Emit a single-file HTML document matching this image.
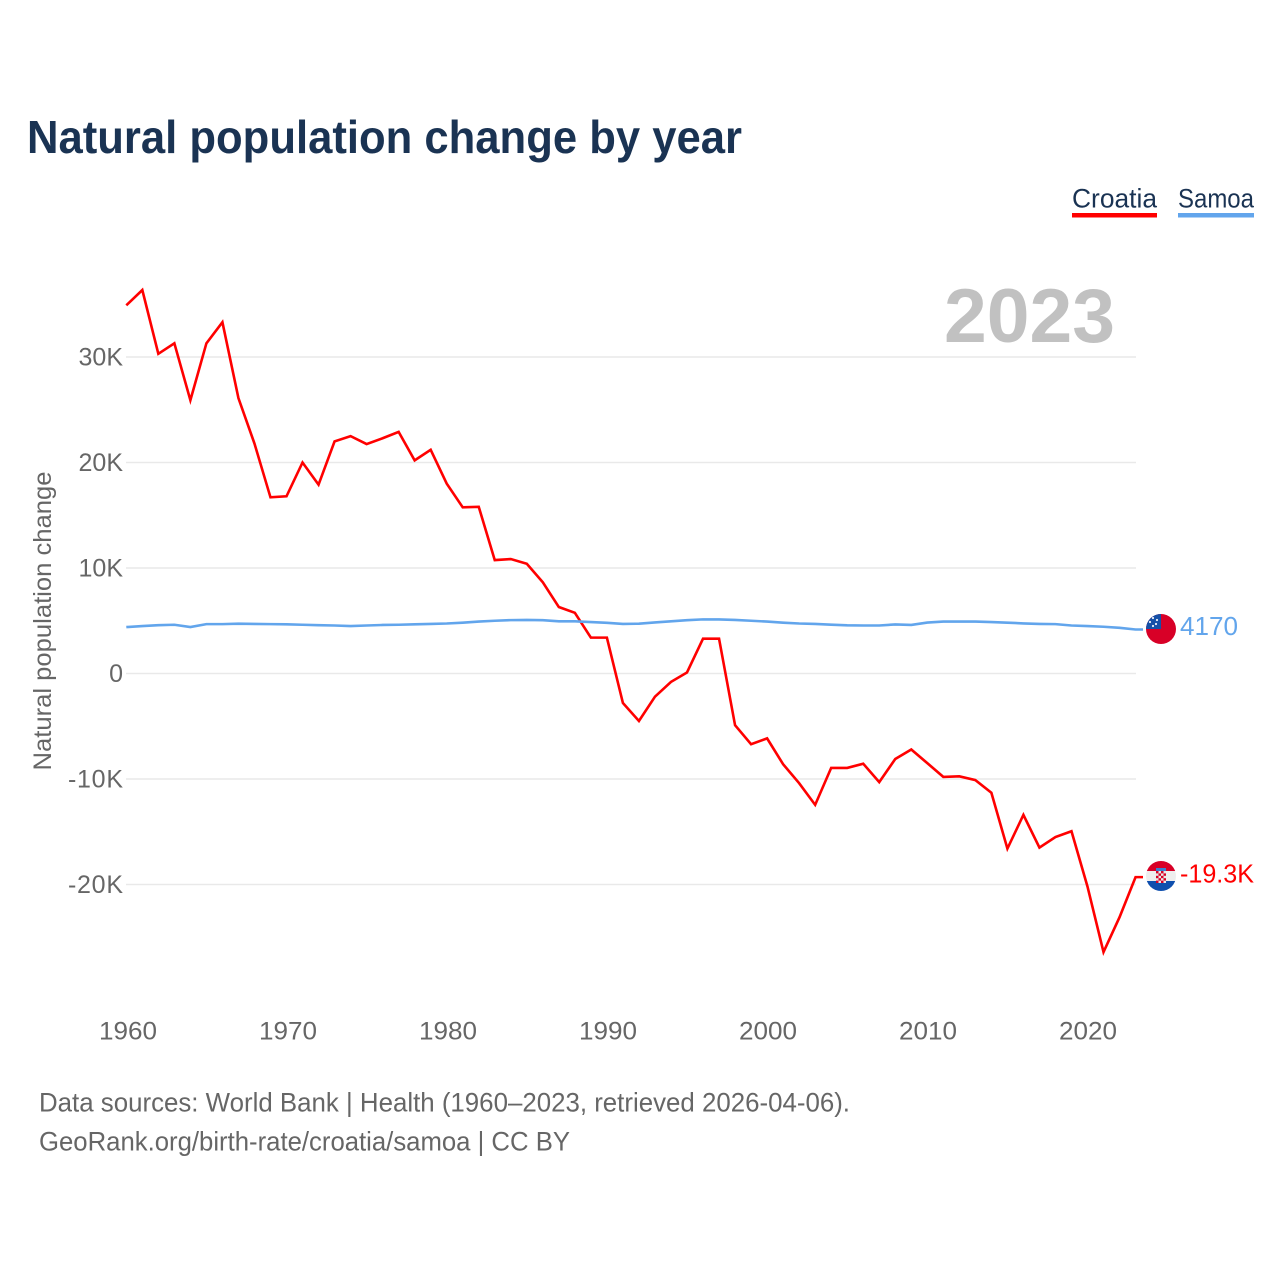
<!DOCTYPE html>
<html lang="en">
<head>
<meta charset="utf-8">
<title>Natural population change by year</title>
<style>
html,body{margin:0;padding:0;background:#fff;width:1280px;height:1280px;overflow:hidden}
svg{display:block;font-family:"Liberation Sans",sans-serif}
</style>
</head>
<body>
<svg id="chart" width="1280" height="1280" viewBox="0 0 1280 1280" xmlns="http://www.w3.org/2000/svg">
  <defs>
    <clipPath id="flag-clip-ws"><circle cx="1161" cy="629" r="15"/></clipPath>
    <clipPath id="flag-clip-hr"><circle cx="1161" cy="876" r="15"/></clipPath>
  </defs>
  <rect width="1280" height="1280" fill="#fff"/>
  <text x="27" y="153" font-size="46" font-weight="700" fill="#1a3353" textLength="715" lengthAdjust="spacingAndGlyphs">Natural population change by year</text>

  <g>
    <g>
      <text x="1072" y="207.5" font-size="27" fill="#1a3353" textLength="85" lengthAdjust="spacingAndGlyphs">Croatia</text>
      <rect x="1072" y="213" width="85" height="4.5" fill="#ff0000"/>
    </g>
    <g>
      <text x="1178" y="207.5" font-size="27" fill="#1a3353" textLength="76" lengthAdjust="spacingAndGlyphs">Samoa</text>
      <rect x="1178" y="213" width="76" height="4.5" fill="#62a5ec"/>
    </g>
  </g>

  <g id="grid"></g>
  <text x="944" y="342" font-size="76" font-weight="700" fill="#c1c1c1" textLength="171" lengthAdjust="spacingAndGlyphs">2023</text>
  <g id="yticks"></g>
  <g id="xticks"></g>
  <text transform="translate(51 621) rotate(-90)" text-anchor="middle" font-size="25" fill="#666" textLength="299" lengthAdjust="spacingAndGlyphs">Natural population change</text>

  <g id="series"></g>

  <g clip-path="url(#flag-clip-ws)">
    <rect x="1146" y="614" width="30" height="30" fill="#d80027"/>
    <rect x="1146" y="614" width="15" height="15" fill="#1450a8"/>
    <g fill="#e8eef8">
      <circle cx="1153" cy="618" r="1.1"/><circle cx="1157" cy="620" r="1.1"/><circle cx="1150" cy="622" r="1.1"/>
      <circle cx="1156" cy="624" r="1.1"/><circle cx="1153" cy="626" r="1.1"/>
    </g>
  </g>
  <g clip-path="url(#flag-clip-hr)">
    <rect x="1146" y="861" width="30" height="10" fill="#d80027"/>
    <rect x="1146" y="871" width="30" height="10" fill="#eeeeee"/>
    <rect x="1146" y="881" width="30" height="10" fill="#0f4fae"/>
    <rect x="1156" y="868" width="10" height="3" fill="#3a7fd0"/>
    <rect x="1156" y="871" width="10" height="12" fill="#e8e8e8"/>
    <g id="checker" fill="#d80027"></g>
  </g>
  <text id="label-samoa" x="1180" y="635" font-size="26" fill="#62a5ec" textLength="58" lengthAdjust="spacingAndGlyphs">4170</text>
  <text id="label-croatia" x="1180" y="882.5" font-size="26" fill="#ff0000" textLength="74" lengthAdjust="spacingAndGlyphs">-19.3K</text>

  <g font-size="27" fill="#666">
    <text x="39" y="1111.5" textLength="811" lengthAdjust="spacingAndGlyphs">Data sources: World Bank | Health (1960–2023, retrieved 2026-04-06).</text>
    <text x="39" y="1150.5" textLength="531" lengthAdjust="spacingAndGlyphs">GeoRank.org/birth-rate/croatia/samoa | CC BY</text>
  </g>
</svg>
<script>
const startYear = 1960;
const croatiaValues = [34.9,36.35,30.3,31.3,25.9,31.3,33.3,26.1,21.8,16.7,16.8,20.0,17.9,22.0,22.5,21.75,22.3,22.9,20.2,21.2,18.0,15.75,15.8,10.75,10.85,10.4,8.65,6.3,5.75,3.4,3.4,-2.8,-4.5,-2.2,-0.8,0.1,3.3,3.3,-4.9,-6.7,-6.15,-8.6,-10.4,-12.45,-8.95,-8.95,-8.55,-10.3,-8.1,-7.2,-8.5,-9.8,-9.75,-10.1,-11.3,-16.6,-13.4,-16.5,-15.5,-14.95,-20.2,-26.4,-23.1,-19.3];
const samoaValues = [4.4,4.5,4.58,4.62,4.4,4.68,4.68,4.72,4.7,4.68,4.66,4.62,4.58,4.55,4.5,4.55,4.6,4.62,4.66,4.7,4.74,4.82,4.92,5.0,5.06,5.08,5.05,4.95,4.95,4.88,4.8,4.7,4.72,4.84,4.95,5.05,5.13,5.12,5.08,5.0,4.92,4.82,4.74,4.7,4.63,4.57,4.55,4.55,4.65,4.6,4.83,4.92,4.92,4.92,4.88,4.82,4.75,4.7,4.68,4.55,4.5,4.43,4.33,4.17];
const yTickValues = [30,20,10,0,-10,-20];
const yTickLabels = ["30K","20K","10K","0","-10K","-20K"];
const xTickYears = [1960,1970,1980,1990,2000,2010,2020];

const NS = "http://www.w3.org/2000/svg";
function xScale(year){ return 126.3 + (year - startYear) * 16.02; }
function xTickScale(year){ return 128 + (year - startYear) * 16; }
function yScale(value){ return 673.5 - value * 10.55; }

const grid = document.getElementById("grid");
const yticks = document.getElementById("yticks");
yTickValues.forEach(function(v, i){
  const line = document.createElementNS(NS, "line");
  
  
  line.setAttribute("x1", 126);
  line.setAttribute("x2", 1136);
  line.setAttribute("y1", yScale(v));
  line.setAttribute("y2", yScale(v));
  line.setAttribute("stroke", "#e9e9e9");
  line.setAttribute("stroke-width", "1.4");
  grid.appendChild(line);
  const t = document.createElementNS(NS, "text");
  
  
  t.setAttribute("x", 123);
  t.setAttribute("y", yScale(v) + 8.5);
  t.setAttribute("text-anchor", "end");
  t.setAttribute("font-size", "25");
  t.setAttribute("fill", "#666");
  if (yTickLabels[i].charAt(0) === "-") {
    t.setAttribute("textLength", "55");
    t.setAttribute("lengthAdjust", "spacing");
  }
  t.textContent = yTickLabels[i];
  yticks.appendChild(t);
});

const xticks = document.getElementById("xticks");
xTickYears.forEach(function(yr){
  const t = document.createElementNS(NS, "text");
  
  
  t.setAttribute("x", xTickScale(yr));
  t.setAttribute("y", 1039.5);
  t.setAttribute("text-anchor", "middle");
  t.setAttribute("font-size", "25");
  t.setAttribute("fill", "#666");
  t.setAttribute("textLength", "58");
  t.setAttribute("lengthAdjust", "spacingAndGlyphs");
  t.textContent = String(yr);
  xticks.appendChild(t);
});

function linePoints(values){
  const pts = values.map(function(v, i){ return xScale(startYear + i).toFixed(2) + "," + yScale(v).toFixed(2); });
  pts.push("1143," + yScale(values[values.length - 1]).toFixed(2));
  return pts.join(" ");
}
const series = document.getElementById("series");
const croatiaLine = document.createElementNS(NS, "polyline");


croatiaLine.setAttribute("points", linePoints(croatiaValues));
croatiaLine.setAttribute("fill", "none");
croatiaLine.setAttribute("stroke", "#ff0000");
croatiaLine.setAttribute("stroke-width", "2.6");
series.appendChild(croatiaLine);
const samoaLine = document.createElementNS(NS, "polyline");


samoaLine.setAttribute("points", linePoints(samoaValues));
samoaLine.setAttribute("fill", "none");
samoaLine.setAttribute("stroke", "#62a5ec");
samoaLine.setAttribute("stroke-width", "2.6");
series.appendChild(samoaLine);

const checker = document.getElementById("checker");
for (let r = 0; r < 5; r++) {
  for (let c = 0; c < 4; c++) {
    if ((r + c) % 2 === 0) {
      const cell = document.createElementNS(NS, "rect");
      cell.setAttribute("x", 1156 + c * 2.5);
      cell.setAttribute("y", 871 + r * 2.4);
      cell.setAttribute("width", 2.5);
      cell.setAttribute("height", 2.4);
      checker.appendChild(cell);
    }
  }
}
</script>
</body>
</html>
